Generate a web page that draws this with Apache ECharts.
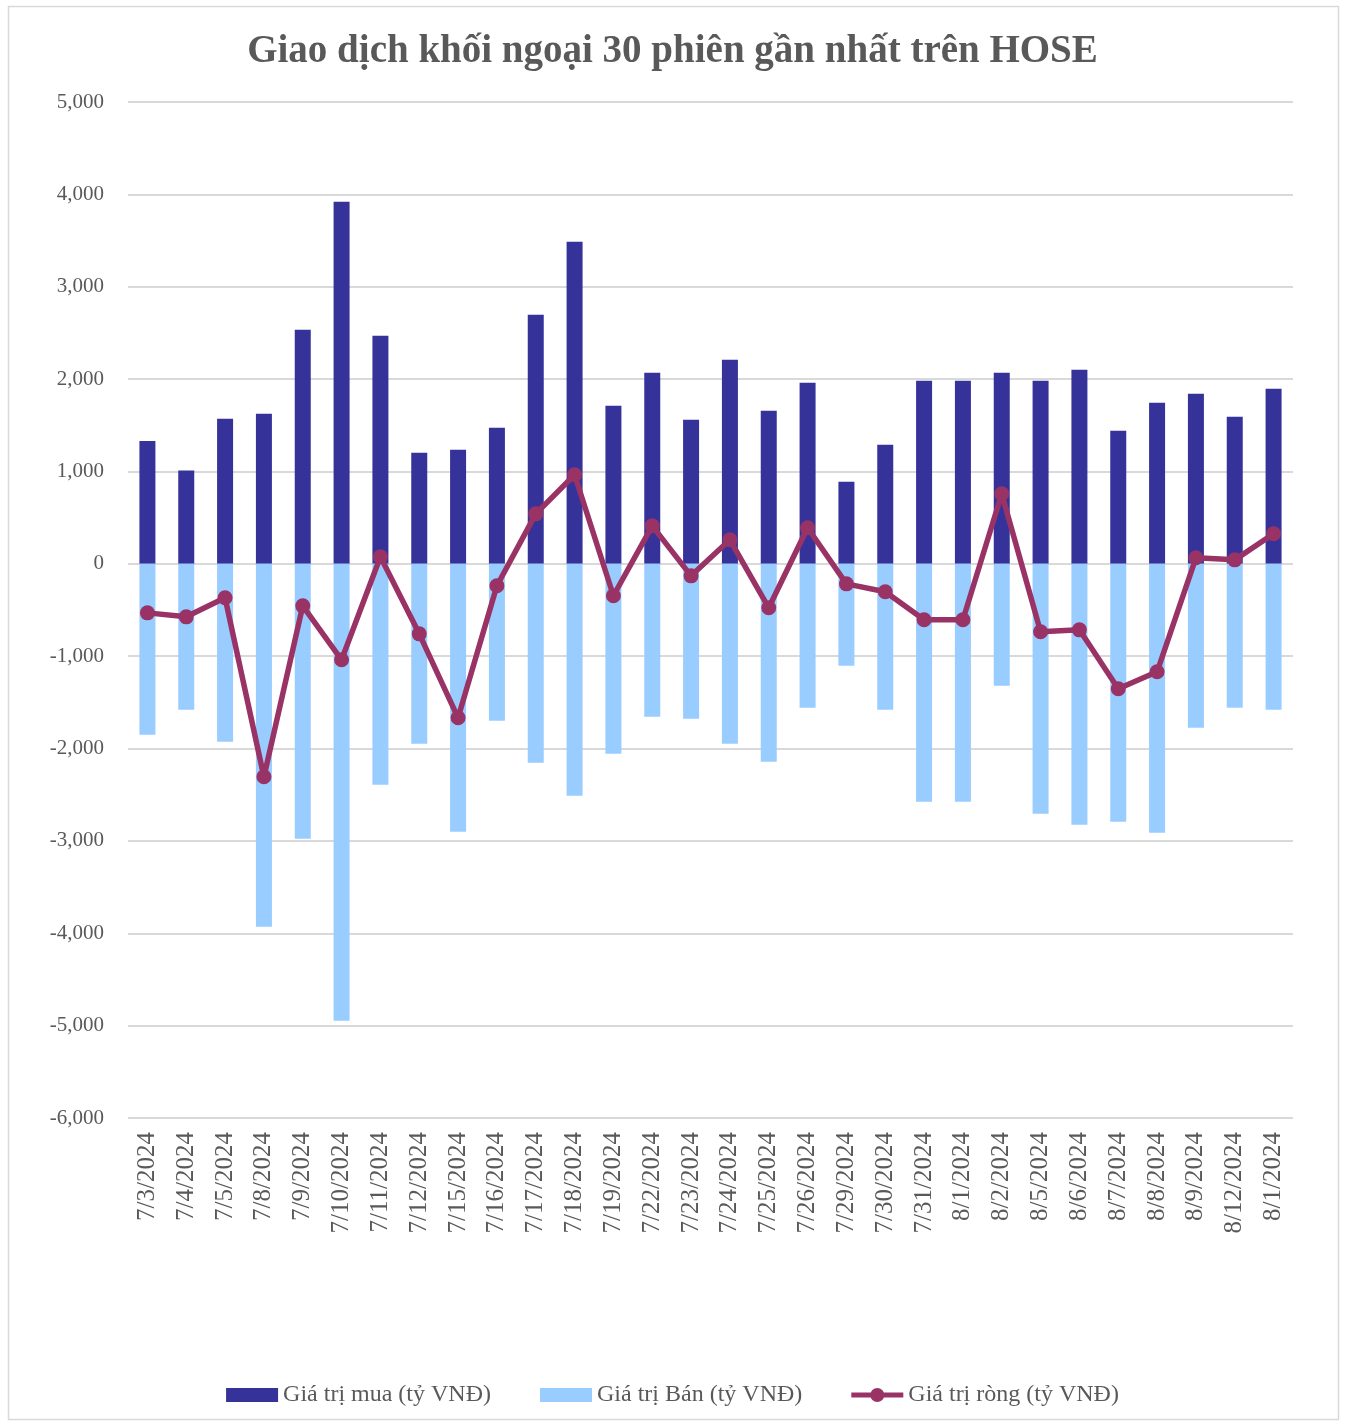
<!DOCTYPE html>
<html>
<head>
<meta charset="utf-8">
<script src="https://cdn.jsdelivr.net/npm/echarts@6/dist/echarts.min.js"></script>
<style>
html,body{margin:0;padding:0;background:#fff;}
#c{width:1345px;height:1425px;}
</style>
</head>
<body>
<div id="c"></div>
<script>
const categories = ["7/3/2024","7/4/2024","7/5/2024","7/8/2024","7/9/2024","7/10/2024","7/11/2024","7/12/2024","7/15/2024","7/16/2024","7/17/2024","7/18/2024","7/19/2024","7/22/2024","7/23/2024","7/24/2024","7/25/2024","7/26/2024","7/29/2024","7/30/2024","7/31/2024","8/1/2024","8/2/2024","8/5/2024","8/6/2024","8/7/2024","8/8/2024","8/9/2024","8/12/2024","8/1/2024"];
const buyValues = [1330,1010,1570,1624,2534,3919,2469,1202,1234,1472,2696,3486,1711,2068,1559,2209,1657,1960,888,1288,1981,1981,2068,1981,2100,1440,1743,1841,1592,1895];
const sellValues = [-1851,-1581,-1927,-3930,-2977,-4948,-2393,-1949,-2902,-1700,-2155,-2512,-2057,-1657,-1678,-1949,-2144,-1559,-1104,-1581,-2577,-2577,-1321,-2707,-2826,-2793,-2913,-1776,-1559,-1581];
const netValues = [-531,-574,-368,-2306,-455,-1039,76,-758,-1667,-238,541,964,-346,411,-130,260,-476,390,-217,-303,-606,-606,758,-736,-715,-1353,-1169,65,43,325];
const seriesNames = ["Giá trị mua (tỷ VNĐ)","Giá trị Bán (tỷ VNĐ)","Giá trị ròng (tỷ VNĐ)"];
const titleText = "Giao dịch khối ngoại 30 phiên gần nhất trên HOSE";

const chart = echarts.init(document.getElementById('c'), null, {renderer:'canvas'});
const serif = "'Liberation Serif', serif";
const lineColor = '#993366';
const lineIcon = 'path://M0,4.5 H19.6 V9.5 H0 Z M32.4,4.5 H52 V9.5 H32.4 Z M33,7 A7,7 0 1,1 19,7 A7,7 0 1,1 33,7 Z';
chart.setOption({
  animation:false,
  backgroundColor:'#fff',
  graphic:[{type:'rect',shape:{x:8.5,y:6.5,width:1330,height:1413},style:{fill:'none',stroke:'#d9d9d9',lineWidth:1.5},z:-1}],
  title:{text:titleText,left:'center',top:27,textStyle:{fontFamily:serif,fontWeight:'bold',fontSize:39,color:'#595959'}},
  grid:{left:128,right:52,top:102,bottom:307,containLabel:false},
  legend:{bottom:13,left:'center',itemWidth:52,itemHeight:14,itemGap:49,
    textStyle:{fontFamily:serif,fontSize:24,color:'#595959'},
    data:[{name:seriesNames[0],icon:'rect'},{name:seriesNames[1],icon:'rect'},
      {name:seriesNames[2],icon:lineIcon,itemStyle:{color:lineColor}}]},
  xAxis:{type:'category',data:categories,
    axisLine:{show:false},axisTick:{show:false},
    axisLabel:{rotate:90,interval:0,margin:14,fontFamily:serif,fontSize:25,color:'#595959'}},
  yAxis:{type:'value',min:-6000,max:5000,interval:1000,
    axisLine:{show:false},axisTick:{show:false},
    splitLine:{lineStyle:{color:'#d9d9d9',width:2}},
    axisLabel:{margin:24,fontFamily:serif,fontSize:21,color:'#595959',
      formatter:v=>v.toLocaleString('en-US')}},
  series:[
    {name:seriesNames[0],type:'bar',data:buyValues,barWidth:16,barGap:'-100%',itemStyle:{color:'#35339A'}},
    {name:seriesNames[1],type:'bar',data:sellValues,barWidth:16,barGap:'-100%',itemStyle:{color:'#99CCFF'}},
    {name:seriesNames[2],type:'line',data:netValues,symbol:'circle',symbolSize:15,
      lineStyle:{color:lineColor,width:5.5},itemStyle:{color:lineColor},z:5}
  ]
});
</script>
</body>
</html>
